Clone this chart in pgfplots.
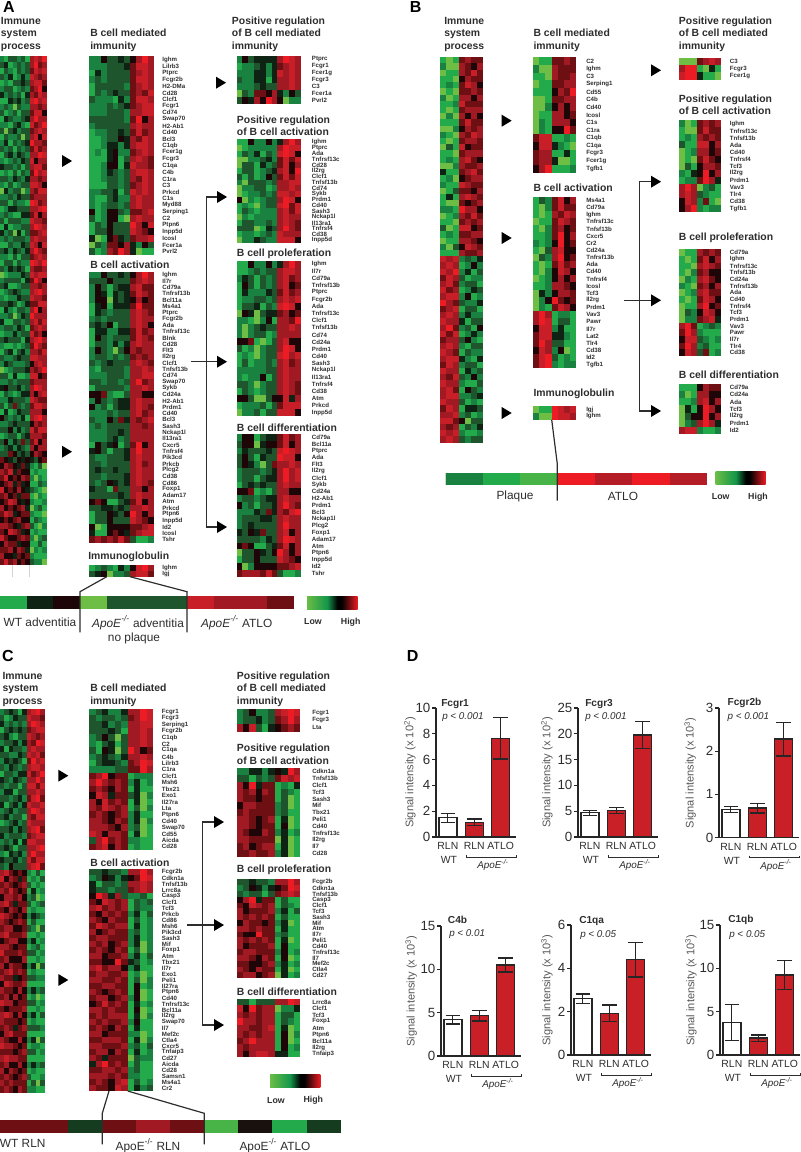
\documentclass[border=0pt]{standalone}
\usepackage{fontspec}
\setmainfont{Liberation Sans}
\usepackage{pgfplots}
\usepackage{pgfplotstable}
\pgfplotsset{compat=1.18}
\definecolor{txt}{RGB}{45,45,45}
\definecolor{hlow}{RGB}{106,189,69}
\definecolor{hgreen}{RGB}{20,150,75}
\definecolor{hhigh}{RGB}{237,28,36}
\definecolor{barred}{RGB}{200,32,38}
\definecolor{sepc}{RGB}{205,215,205}
\pgfdeclarehorizontalshading{heatbar}{100bp}{color(0bp)=(hlow); color(25bp)=(hlow); color(45bp)=(hgreen); color(55bp)=(black); color(59bp)=(black); color(75bp)=(hhigh); color(100bp)=(hhigh)}
\pgfplotsset{colormap={heat}{rgb255(0)=(110,190,70) rgb255(1)=(35,170,75) rgb255(2)=(25,130,65) rgb255(3)=(30,85,45) rgb255(4)=(15,35,20) rgb255(5)=(30,5,8) rgb255(6)=(110,15,20) rgb255(7)=(160,25,35) rgb255(8)=(200,30,40) rgb255(9)=(237,28,36)}}
\pgfdeclareplotmark{cell}{\pgfpathrectangle{\pgfqpoint{-\cellw pt}{-\cellh pt}}{\pgfqpoint{\cellW pt}{\cellH pt}}\pgfusepathqfill}
\def\lx{8}
\newcommand{\hm}[9]{%
 \pgfmathsetmacro\cellw{#3*0.75/(#5+1)/2+0.05}\pgfmathsetmacro\cellh{#4*0.75/(#6+1)/2+0.05}%
 \pgfmathsetmacro\cellW{2*\cellw}\pgfmathsetmacro\cellH{2*\cellh}%
 \begin{axis}[at={(#1*0.75pt,-#2*0.75pt)},anchor=north west,scale only axis,width=#3*0.75pt,height=#4*0.75pt,
  colormap name=heat,point meta min=0,point meta max=9,xmin=-.5,xmax=#5.5,ymin=-.5,ymax=#6.5,y dir=reverse,clip=false,
  axis line style={draw=none},xtick=\empty,ytick={0,...,#6},yticklabels={#8},yticklabel pos=right,major tick length=0pt,
  yticklabel style={anchor=west,inner sep=0pt,text=txt,xshift=\lx*0.75pt,font=\fontsize{4.6}{5}\selectfont\bfseries}]
 \pgfplotsinvokeforeach{0,...,#5}{\addplot[scatter,only marks,mark=cell,point meta=explicit] table[x expr=##1,y expr=\coordindex,meta index=##1]{#9};}
 \pgfplotsinvokeforeach{#7}{\addplot[sepc,line width=0.5pt,no marks] coordinates {(##1,-.5)(##1,#6.5)};}
 \end{axis}}
\newcommand{\bc}[8]{%
 \pgfmathsetmacro\barh{(#3-#2)*0.75}%
 \begin{axis}[at={(#1*0.75pt,-#2*0.75pt)},anchor=north west,scale only axis,width=60pt,height=\barh pt,
  /pgf/number format/assume math mode=true,xmin=-.45,xmax=2.58,ymin=0,ymax=#4,ytick distance=#5,
  axis x line*=bottom,axis y line*=left,axis line style={-,line width=1pt,black!85},
  xtick={0,1,2},xticklabels={RLN,RLN,ATLO},xtick style={draw=none},ytick style={line width=1pt,black!85},
  tick align=outside,major tick length=3pt,tick label style={text=txt},
  yticklabel style={font=\fontsize{10}{11}\selectfont,inner xsep=1pt},
  xticklabel style={font=\fontsize{7.8}{9}\selectfont,inner ysep=1pt},
  ylabel={Signal intensity (x 10\textsuperscript{#6})},
  every axis y label/.style={at={(axis description cs:0,0.5)},xshift=-#7*0.75pt,rotate=90,anchor=center,font=\fontsize{8.3}{9}\selectfont,text=txt!80}]
 \addplot[ybar,bar width=13.5pt,bar shift=0pt,draw=black!85,fill=white,line width=1pt,
  error bars/.cd,y dir=both,y explicit,error bar style={line width=0.9pt,black!85},error mark options={rotate=90,black!85,line width=0.9pt,mark size=5.5pt}]
  table[x=x,y=y,y error=e,skip coords between index={1}{3}]{#8};
 \addplot[ybar,bar width=13.5pt,bar shift=0pt,draw=black!85,fill=barred,line width=1pt,
  error bars/.cd,y dir=both,y explicit,error bar style={line width=0.9pt,black!85},error mark options={rotate=90,black!85,line width=0.9pt,mark size=5.5pt}]
  table[x=x,y=y,y error=e,skip coords between index={0}{1}]{#8};
 \end{axis}
 \node[anchor=center,text=txt,font=\fontsize{7.8}{9}\selectfont] at ({#1+13},{#3+23}) {WT};
 \draw[txt,line width=0.5pt] ({#1+30},{#3+18})--({#1+30},{#3+20})--({#1+80},{#3+20})--({#1+80},{#3+18});
 \node[anchor=center,text=txt,font=\fontsize{7.4}{9}\selectfont\itshape] at ({#1+57},{#3+28}) {ApoE\textsuperscript{-/-}};}
\newcommand{\ttl}[3]{\node[anchor=base west,inner sep=0pt,text=txt,font=\fontsize{7.8}{9}\selectfont\bfseries] at ({#1},{#2+3.7}) {#3};}
\newcommand{\tri}[2]{\fill[black] ({#1},{#2-6})--({#1+10},{#2})--({#1},{#2+6})--cycle;}
\newcommand{\grad}[6]{\shade[shading=heatbar] (#1,#2) rectangle (#3,#4);
 \node[text=txt,font=\fontsize{6.6}{8}\selectfont\bfseries] at (#5,{#4+12.5}) {Low};
 \node[text=txt,font=\fontsize{6.6}{8}\selectfont\bfseries] at (#6,{#4+12.5}) {High};}
\newcommand{\lab}[3]{\node[text=txt,inner sep=0pt,font=\fontsize{8.9}{10}\selectfont] at (#1,#2) {#3};}
\newcommand{\apo}{\textit{ApoE}\textsuperscript{\textit{-/-}}}

\pgfplotstableread{x y e
0 1.5 0.35
1 1.15 0.25
2 7.65 1.6
}\bA
\pgfplotstableread{x y e
0 4.7 0.5
1 5.1 0.6
2 19.8 2.6
}\bB
\pgfplotstableread{x y e
0 0.65 0.07
1 0.68 0.11
2 2.28 0.39
}\bC
\pgfplotstableread{x y e
0 4.2 0.5
1 4.65 0.6
2 10.5 0.8
}\bD
\pgfplotstableread{x y e
0 2.6 0.22
1 1.93 0.38
2 4.4 0.8
}\bE
\pgfplotstableread{x y e
0 3.75 2.1
1 1.95 0.35
2 9.25 1.65
}\bF

\pgfplotstableread[header=false]{
2 2 5 3 3 4 3 5 7 9 7
2 2 2 3 3 3 4 6 8 8 7
1 4 2 3 3 3 3 6 7 8 7
2 3 2 3 3 3 3 6 8 8 7
1 3 3 3 3 3 2 6 7 8 7
1 3 2 3 4 3 3 6 7 6 8
3 2 2 2 1 4 2 6 8 8 7
2 2 2 3 2 3 4 6 7 8 8
2 2 2 3 3 3 2 7 7 8 8
3 3 3 3 3 3 2 6 9 5 7
2 3 3 3 3 3 3 7 8 7 7
1 2 2 3 3 4 3 6 8 6 7
1 1 2 3 3 5 4 7 6 8 7
1 1 2 4 4 2 4 7 8 8 7
1 2 1 4 5 2 2 6 7 8 7
1 1 1 4 5 1 3 7 8 7 6
1 1 2 5 5 1 4 8 7 7 6
1 1 2 4 3 2 3 7 8 8 7
1 1 2 3 3 2 3 7 6 8 7
1 1 1 3 3 2 3 6 7 8 7
2 2 3 3 4 1 3 8 7 8 7
2 1 1 3 4 2 2 7 8 7 7
2 1 2 3 3 2 3 7 8 7 7
5 1 2 5 5 3 2 6 6 7 8
3 1 2 5 5 1 0 7 8 7 7
1 3 2 5 3 3 3 9 7 5 8
1 3 3 5 3 3 3 8 7 6 5
4 0 1 5 6 4 3 6 7 7 8
0 3 2 6 6 5 7 4 2 5 3
3 1 2 7 6 9 7 4 0 1 1
}\tAa
\pgfplotstableread[header=false]{
2 2 5 3 3 4 3 5 7 9 7
3 3 3 5 3 3 3 6 7 8 7
2 5 3 1 3 4 4 7 8 6 6
2 5 4 1 4 3 4 6 8 7 6
2 5 5 0 4 3 4 5 7 5 6
1 4 5 1 4 4 4 6 9 6 6
1 4 3 2 3 3 3 7 8 7 6
2 3 2 3 3 3 3 7 8 7 7
3 4 3 5 1 3 3 7 8 7 5
1 4 4 2 2 4 4 6 8 6 7
1 5 3 2 3 3 3 6 8 7 6
1 3 3 2 4 2 4 7 8 7 7
2 5 3 2 0 3 5 7 6 7 7
2 3 3 2 3 2 3 6 7 6 7
3 2 3 4 3 3 3 7 8 7 6
2 1 3 3 3 3 2 7 7 8 7
2 2 2 3 3 3 2 7 7 8 8
3 3 2 3 3 2 3 7 9 6 7
1 3 3 3 3 3 2 7 7 8 7
5 5 6 2 1 1 3 7 7 5 5
2 5 3 2 3 4 4 7 8 7 7
5 2 3 1 3 4 4 7 8 7 6
2 2 2 3 2 3 3 7 8 6 7
3 2 2 5 3 6 4 7 6 7 8
2 3 2 3 3 3 3 7 7 6 7
2 2 2 3 3 4 3 7 7 7 7
2 2 2 3 4 2 3 7 7 7 7
1 5 3 4 5 1 3 6 9 5 7
4 5 3 1 3 3 4 7 9 7 7
3 2 2 3 3 3 4 7 8 7 7
3 3 2 3 3 3 3 7 8 6 7
3 4 3 3 4 3 3 7 8 7 7
3 3 2 3 3 3 4 7 8 7 7
3 2 3 5 4 3 4 7 8 7 6
4 3 3 1 6 3 3 7 7 5 7
3 3 3 3 3 4 3 7 8 7 7
5 6 5 1 1 3 4 6 8 5 7
3 3 4 4 3 4 3 7 7 8 7
1 3 3 5 4 3 5 9 7 5 7
1 3 3 5 3 3 3 8 7 6 5
5 0 1 5 5 5 5 6 6 7 8
4 1 1 5 6 5 4 6 7 8 8
6 7 6 7 6 8 6 3 1 1 2
}\tAb
\pgfplotstableread[header=false]{
1 2 3 2 1 4 2 5 8 9 7
3 4 5 0 2 2 3 7 8 8 6
}\tAc
\pgfplotstableread[header=false]{
2 5 3 4 4 4 4 7 9 8 7
1 2 2 3 4 2 4 6 7 8 7
2 2 2 4 4 2 4 8 7 8 7
3 2 2 4 4 1 4 7 7 8 7
2 2 2 3 4 3 3 7 7 8 7
0 3 2 6 6 5 7 4 2 5 3
3 5 4 7 5 9 7 5 0 2 2
}\tAd
\pgfplotstableread[header=false]{
1 1 5 2 2 5 2 4 7 9 7
0 1 2 2 2 2 2 7 9 8 8
1 3 2 4 1 3 2 8 9 8 5
0 0 2 2 3 4 2 6 8 6 8
0 3 3 1 4 2 3 6 8 5 7
1 3 3 1 2 3 4 7 8 5 9
3 1 3 1 2 5 3 6 8 6 8
2 0 3 3 3 2 3 7 7 8 8
0 2 2 3 3 1 2 7 7 8 7
0 1 2 2 3 2 3 8 8 7 8
5 0 2 1 2 3 3 7 9 8 5
1 2 1 0 2 3 3 8 9 6 8
1 3 2 1 2 2 2 7 8 6 8
0 2 1 2 2 2 2 7 8 7 7
1 3 3 2 2 3 2 7 8 7 6
3 3 3 0 1 4 3 7 9 7 6
1 2 2 1 2 3 2 8 7 7 7
0 2 2 4 3 2 2 8 8 8 5
}\tAe
\pgfplotstableread[header=false]{
1 1 5 2 2 5 2 4 7 9 7
1 1 2 3 2 3 3 7 8 8 7
2 4 3 1 3 2 3 7 8 6 7
1 5 3 1 3 2 3 7 8 5 6
1 4 2 2 2 4 3 6 8 6 7
1 2 2 3 3 2 3 7 8 7 8
1 3 3 4 1 3 2 8 9 8 5
0 5 4 0 3 4 4 6 7 5 6
2 2 1 0 2 5 1 7 7 6 9
2 0 2 3 4 3 3 7 7 8 7
2 0 2 3 3 1 2 7 7 7 7
5 5 6 1 0 1 3 7 8 5 5
3 1 2 0 2 3 3 7 9 8 5
1 2 1 0 2 3 3 8 9 7 8
1 3 1 2 2 3 2 7 8 6 7
2 2 2 2 2 3 3 7 8 7 7
2 1 2 2 5 1 3 7 8 7 7
3 3 2 0 2 3 3 7 8 7 6
1 3 2 1 2 3 3 7 8 7 6
5 5 3 0 0 3 5 5 8 4 7
1 2 2 2 3 1 3 6 8 8 8
0 2 2 3 1 3 3 8 8 8 5
}\tAf
\pgfplotstableread[header=false]{
2 5 5 1 3 4 4 6 8 6 7
3 5 5 0 4 5 5 6 8 5 7
2 4 3 3 3 4 3 8 9 8 7
3 5 3 1 4 3 3 9 8 8 5
3 5 4 2 0 3 6 7 7 8 7
2 3 3 3 2 3 4 7 9 7 8
2 3 3 1 3 4 4 7 9 7 8
1 3 4 3 4 3 3 7 8 7 7
5 5 6 1 2 1 3 7 7 5 5
2 3 3 2 3 4 4 7 8 7 7
5 2 3 1 3 3 4 7 9 7 6
2 2 2 4 3 6 4 7 6 8 9
2 3 3 3 4 4 3 7 8 7 7
2 3 4 3 3 3 3 7 9 7 7
4 3 5 4 6 3 3 7 8 5 7
3 3 3 3 2 4 3 7 9 8 7
5 6 5 1 1 3 4 6 8 5 7
0 3 3 5 4 3 5 9 7 5 7
1 3 3 5 3 3 3 8 7 6 5
5 0 2 5 5 5 5 6 6 7 8
6 7 7 7 6 8 6 3 1 1 2
}\tAg
\pgfplotstableread[header=false]{
2 1 3 3 2 3 1 7 8 7 9
3 4 1 2 3 2 3 7 9 6 7
1 3 2 1 3 2 3 6 8 7 8
3 2 4 1 2 4 2 8 7 6 7
1 2 1 3 3 4 3 7 8 8 6
2 3 3 1 2 3 2 6 7 9 5
4 2 3 2 3 1 4 7 6 8 7
1 1 4 3 4 2 3 8 9 7 8
2 3 2 0 3 2 2 7 7 6 7
3 1 2 3 1 3 3 6 8 8 5
1 4 3 2 2 3 4 7 9 7 7
2 2 1 3 4 2 1 8 6 7 9
3 0 3 4 2 3 3 6 7 8 7
1 3 2 2 3 0 3 7 8 5 8
2 4 1 3 2 3 4 9 7 7 6
3 2 3 1 3 2 3 6 8 6 7
1 3 4 2 4 3 2 7 7 9 8
2 1 2 3 2 4 3 8 5 7 7
4 3 3 2 3 1 3 7 8 8 6
1 2 1 3 1 3 2 6 9 7 8
3 3 2 4 3 2 4 7 7 6 7
2 1 3 1 2 3 3 8 8 7 5
0 4 2 3 3 0 2 7 6 8 8
2 2 3 2 4 3 3 6 7 7 7
3 3 1 3 2 2 1 9 8 6 7
1 2 4 4 3 3 3 7 7 8 9
2 3 2 1 1 4 4 6 8 5 7
3 1 3 3 3 2 2 8 7 7 6
1 4 1 2 2 3 3 7 9 8 7
4 2 3 0 4 1 3 6 6 7 8
2 3 2 3 3 3 2 7 8 7 7
1 1 3 2 2 4 3 8 7 5 8
3 4 2 4 3 2 4 7 9 7 6
2 2 1 3 1 3 3 6 7 8 7
1 3 3 1 3 2 2 9 8 7 9
3 2 4 3 4 3 1 7 6 6 7
0 1 2 2 2 4 3 8 7 8 8
2 3 3 3 3 1 4 6 9 7 5
3 4 1 1 2 3 3 7 7 6 7
1 2 3 4 3 2 2 7 8 9 7
2 1 2 2 4 3 3 8 7 7 6
3 3 4 3 1 2 4 6 6 8 8
1 4 2 1 3 3 2 7 9 5 7
2 2 3 0 2 4 3 9 7 7 7
4 1 1 3 3 2 3 7 8 6 8
2 3 3 2 4 3 1 6 7 8 7
1 2 2 4 2 3 3 8 6 7 5
3 4 3 3 3 1 4 7 8 9 7
2 1 1 2 1 2 3 6 9 7 6
1 3 4 1 3 4 2 7 7 6 8
3 2 2 3 4 3 3 8 8 7 7
2 4 3 2 2 2 3 5 7 8 7
0 1 2 3 3 3 4 7 6 7 9
3 3 1 4 1 1 2 8 8 5 6
2 2 3 2 3 3 3 6 7 7 7
4 5 3 3 4 2 3 7 9 8 7
1 3 2 1 2 4 4 7 5 7 8
2 2 4 3 3 3 2 8 7 6 6
3 1 3 6 3 2 3 6 8 8 7
1 4 1 2 4 3 3 7 7 7 5
5 3 2 3 2 4 1 7 8 9 7
2 2 3 4 3 3 3 5 7 6 7
3 3 5 2 4 2 3 8 6 8 8
1 2 3 3 1 3 4 7 7 7 6
3 5 2 4 3 6 3 6 8 5 7
2 3 4 2 4 3 2 7 5 7 7
3 3 6 5 3 4 3 5 7 6 5
6 5 4 3 5 4 5 4 3 5 6
5 7 6 5 4 6 4 2 1 3 0
7 6 8 4 6 5 5 1 2 1 1
6 8 5 6 5 7 6 2 0 2 1
5 6 7 4 6 4 5 1 1 3 2
8 5 6 5 7 5 4 3 2 1 0
6 7 5 6 4 6 6 1 0 2 1
5 6 8 7 5 4 5 2 1 1 2
7 5 6 5 6 7 4 0 2 3 1
6 8 7 4 5 6 6 2 1 1 0
5 6 5 6 7 5 5 1 3 2 1
7 7 6 5 4 6 7 3 1 0 2
6 5 8 7 6 4 5 1 2 1 1
8 6 5 5 6 7 6 2 0 2 3
5 7 6 6 4 5 5 1 1 3 1
6 6 7 5 7 6 4 0 2 1 2
7 5 5 4 6 5 6 2 1 1 1
6 8 6 7 5 6 5 3 2 2 0
}\tAm
\pgfplotstableread[header=false]{
1 4 5 0 3 3 3 8 7 7 6
}\tAl

\pgfplotstableread[header=false]{
1 0 1 6 7 6 6
2 0 0 7 6 5 7
0 1 1 7 6 8 6
1 1 0 5 7 6 6
1 2 1 6 8 7 5
0 1 0 6 6 7 6
2 0 1 7 7 5 7
1 1 2 8 6 6 6
1 0 1 6 7 7 7
0 2 0 7 5 7 5
1 1 1 6 8 6 6
0 0 2 5 7 6 7
2 1 0 7 6 8 7
1 0 1 6 7 7 6
0 3 1 8 5 6 6
1 1 0 6 7 7 7
1 2 1 7 8 6 5
0 0 2 7 6 6 7
4 1 1 6 7 8 6
1 2 0 5 6 7 7
2 1 1 8 7 6 6
0 1 3 6 6 5 7
1 4 1 7 8 7 6
1 0 0 6 5 6 7
2 2 1 9 7 7 5
0 1 2 7 6 8 6
1 1 0 6 7 6 7
3 0 1 8 8 5 6
1 2 1 6 6 7 7
0 1 1 7 7 6 5
2 0 3 5 8 7 6
1 1 1 7 6 6 7
8 7 8 2 3 2 4
7 8 7 1 2 5 2
8 7 9 2 4 1 3
6 8 7 3 1 2 2
7 8 6 2 3 3 1
8 6 7 1 2 4 3
7 8 8 2 5 1 2
9 7 6 3 2 2 4
6 7 8 1 3 3 1
7 8 7 2 4 2 2
8 7 7 4 1 3 3
7 9 6 2 3 1 5
8 6 8 1 2 4 2
6 7 7 3 5 2 1
7 8 7 2 1 3 3
8 7 6 1 3 2 2
7 8 8 4 2 1 4
6 8 7 2 3 3 1
8 7 7 1 4 2 3
7 6 8 3 2 5 2
8 7 7 2 1 1 3
7 8 6 1 5 3 2
7 8 8 2 2 3 4
8 7 7 3 1 2 1
6 8 7 1 4 4 3
7 7 8 2 3 1 2
8 8 6 5 0 3 3
7 6 7 1 3 2 4
8 7 8 2 1 1 2
7 8 7 3 2 3 3
}\tBm
\pgfplotstableread[header=false]{
0 1 1 6 6 7 6
2 0 0 7 6 6 6
1 1 0 7 6 6 7
0 1 1 6 6 7 7
1 1 1 5 7 6 9
0 0 1 6 6 7 7
0 0 2 5 7 5 7
0 1 1 7 7 5 6
0 2 1 7 7 7 5
0 2 1 5 5 9 6
6 8 8 1 1 2 1
5 8 8 4 2 1 0
6 7 7 1 1 4 1
6 7 7 4 0 0 1
5 7 9 1 1 1 2
}\tBa
\pgfplotstableread[header=false]{
1 3 2 6 8 5 7
1 0 2 6 8 6 6
1 0 1 7 6 8 7
0 1 1 6 8 7 6
1 0 2 6 7 5 6
1 1 2 6 9 5 7
2 1 2 5 9 5 6
1 0 3 7 8 5 5
0 3 2 7 9 5 6
1 0 1 6 8 6 7
1 0 2 5 8 7 5
0 1 2 5 7 5 7
1 1 2 7 7 6 5
0 4 2 5 7 7 6
0 2 5 9 6 5 6
0 2 1 6 8 7 5
7 9 7 1 2 2 1
7 9 8 1 3 3 1
5 8 8 2 4 1 1
6 8 8 4 4 2 1
6 9 7 3 3 1 1
5 8 7 2 5 0 1
6 8 9 3 1 2 1
6 8 9 2 1 2 2
}\tBb
\pgfplotstableread[header=false]{
0 1 1 9 8 7 8
2 0 0 9 8 8 7
}\tBc
\pgfplotstableread[header=false]{
0 0 0 6 7 8 7
7 9 9 1 0 4 1
8 9 9 4 1 1 0
}\tBd
\pgfplotstableread[header=false]{
2 0 1 6 7 6 7
1 0 0 6 8 6 6
1 2 1 7 6 7 6
3 1 1 8 8 5 7
0 1 2 7 7 5 6
0 1 0 6 8 6 5
0 3 1 5 7 7 6
2 1 4 5 9 5 7
1 2 2 6 9 7 4
7 9 7 0 2 3 1
7 8 7 3 2 1 1
5 8 7 2 6 1 0
5 7 9 2 1 2 2
}\tBe
\pgfplotstableread[header=false]{
0 1 1 7 6 7 6
1 0 1 6 8 5 7
1 1 0 7 8 7 6
1 0 2 6 7 5 5
0 2 1 7 8 6 5
2 1 0 6 7 5 7
0 1 2 7 8 6 6
1 0 1 6 8 7 5
0 1 1 7 9 5 6
0 3 2 5 8 7 5
0 2 2 6 7 8 4
7 9 6 1 2 3 2
6 9 7 2 1 1 1
5 8 8 3 2 1 2
6 9 7 2 3 1 1
5 8 7 3 6 1 2
}\tBf
\pgfplotstableread[header=false]{
1 1 1 5 7 6 6
2 0 1 7 7 5 5
1 1 2 7 8 5 7
0 4 1 5 9 7 5
0 3 5 5 9 5 7
0 2 3 7 9 7 4
7 8 8 2 1 1 2
}\tBg
\pgfplotstableread[header=false]{
2 1 0.5 9 7.5 9 7.5
}\tBl
\pgfplotstableread[header=false]{
6 6 3.5 6 7 6 0.5 4.6 1 3.5
}\tCk
\pgfplotstableread[header=false]{
2 3 4 2 2 4 7 7 9 8
3 2 3 3 2 3 6 7 9 8
3 3 4 2 3 2 7 7 8 8
3 3 3 4 3 1 7 7 8 7
2 3 5 3 0 3 7 7 8 7
2 1 3 4 1 3 7 7 8 7
3 1 5 4 0 3 9 7 5 6
2 3 4 3 2 4 7 7 8 7
1 3 4 4 3 2 6 7 9 8
2 2 2 2 3 3 6 6 9 7
6 7 9 5 6 6 1 2 2 2
7 9 7 6 7 6 2 4 1 2
6 7 6 5 7 6 1 4 1 1
5 8 7 4 6 6 3 4 0 2
7 5 8 6 7 6 1 4 0 1
7 6 8 7 6 7 1 3 0 2
6 7 6 5 6 7 2 4 1 1
7 7 6 5 7 6 2 4 0 2
7 7 7 6 5 7 2 3 0 1
8 7 5 7 7 6 1 4 0 1
3 7 9 6 7 6 2 2 1 1
6 7 8 5 7 6 1 2 1 1
}\tCa
\pgfplotstableread[header=false]{
3 3 4 3 3 2 7 7 9 7
2 3 5 4 2 4 5 6 9 8
4 1 3 3 2 3 7 7 8 7
4 3 3 2 3 3 6 7 8 7
5 9 7 4 7 3 2 2 3 1
6 5 8 7 6 7 1 3 2 3
7 8 6 7 6 7 1 3 2 2
6 5 7 6 7 6 2 4 1 3
7 6 5 7 6 6 1 3 1 2
6 8 7 6 7 7 1 4 1 2
7 5 6 7 6 6 2 3 1 2
6 7 7 6 6 6 2 4 1 2
7 6 7 5 6 7 2 4 0 2
6 7 6 5 7 6 1 3 0 2
7 7 5 6 6 7 2 4 1 3
6 6 5 5 9 6 4 3 1 2
7 8 6 7 7 5 2 4 1 1
6 7 7 6 6 7 1 2 0 1
7 7 6 6 7 6 1 3 0 2
6 6 7 7 6 6 1 5 1 2
7 6 5 6 7 6 1 5 0 1
6 7 7 5 6 7 2 5 0 1
5 6 8 6 7 6 1 4 1 2
7 7 6 7 6 6 1 5 0 1
6 7 6 7 7 7 1 4 0 2
7 6 7 6 6 7 2 5 1 1
6 7 6 5 7 6 1 4 1 1
7 7 5 6 6 6 2 2 0 1
6 6 7 7 7 6 1 4 0 2
7 7 6 6 6 7 2 3 1 3
6 7 7 5 7 6 1 4 1 2
7 6 4 6 6 6 0 3 2 2
4 7 9 6 7 6 1 3 1 1
6 6 7 7 6 7 2 3 1 1
7 7 7 6 7 6 2 2 1 1
6 7 6 5 7 8 1 3 1 2
7 6 6 5 8 7 1 4 2 3
}\tCb
\pgfplotstableread[header=false]{
2 3 5 2 2 3 7 8 9 8
2 3 3 4 2 3 6 7 9 7
7 5 8 3 1 4 5 6 7 6
}\tCc
\pgfplotstableread[header=false]{
2 2 4 4 2 4 5 4 9 7
3 3 1 3 2 3 6 8 7 8
7 5 9 4 6 6 1 2 1 4
7 6 7 5 7 6 1 3 2 1
7 6 6 5 6 6 1 3 0 1
5 7 7 6 6 6 2 3 0 1
6 7 6 6 6 6 2 3 1 1
7 7 6 5 6 7 1 4 0 1
7 7 6 5 6 6 1 5 0 1
7 6 5 5 7 6 2 4 1 2
7 7 6 6 6 6 0 4 0 1
6 7 5 6 7 7 1 4 0 1
6 6 7 6 6 7 2 4 0 1
}\tCe
\pgfplotstableread[header=false]{
3 3 4 3 3 2 7 7 9 7
2 3 5 4 2 4 5 6 9 8
3 2 3 3 1 3 6 7 8 7
5 7 9 4 6 6 1 3 1 1
6 5 8 7 6 7 1 3 2 1
7 5 6 6 6 7 2 4 1 3
7 6 7 6 7 6 1 3 1 1
5 7 6 6 5 6 2 4 0 1
7 7 6 7 6 6 1 4 1 1
6 5 5 9 6 6 2 3 1 1
7 6 7 6 7 6 1 4 0 1
7 5 6 6 6 7 1 5 1 1
6 7 7 6 6 6 2 5 1 2
7 7 6 5 7 6 1 5 0 1
6 6 5 5 6 7 2 4 1 2
7 6 5 7 6 6 1 4 0 1
6 7 7 5 6 7 0 4 1 2
}\tCf
\pgfplotstableread[header=false]{
3 3 1 3 3 3 7 7 9 8
8 5 9 6 7 7 0 2 2 4
7 6 7 6 7 7 1 3 3 1
9 7 7 6 7 7 1 3 2 1
7 7 6 6 7 8 1 4 0 1
7 6 7 6 7 7 1 5 0 2
6 7 9 7 7 7 1 5 0 1
7 6 7 7 7 7 1 5 1 2
7 5 7 8 8 7 4 4 1 1
}\tCg
\pgfplotstableread[header=false]{
2 3 4 3 1 4 7 8 9 7
3 1 2 4 3 3 8 7 7 6
4 2 3 2 3 2 7 9 8 7
1 3 4 3 4 3 6 7 8 8
3 4 2 1 3 3 8 7 6 7
2 3 3 4 2 4 7 6 9 8
4 1 4 3 3 2 7 8 7 7
3 3 2 2 4 3 8 7 8 6
2 4 3 4 3 1 6 9 7 8
3 2 4 3 2 3 7 8 8 7
1 3 3 2 4 4 8 6 7 9
4 3 2 4 3 2 7 7 9 7
3 2 3 3 1 3 8 8 6 8
2 4 4 1 3 3 7 7 8 7
3 3 2 3 4 2 6 8 9 6
4 1 3 4 2 4 8 7 7 8
2 3 4 2 3 3 7 9 8 7
3 4 2 3 3 1 7 6 8 8
1 2 3 4 2 3 8 7 7 7
3 3 4 2 4 3 7 8 9 6
4 2 3 3 3 2 6 7 8 8
2 3 2 4 1 4 8 8 7 7
3 4 3 1 3 3 7 7 8 9
2 1 4 3 4 2 7 9 7 7
4 3 3 4 2 3 8 6 8 8
3 2 5 3 3 3 7 8 9 6
7 8 6 5 6 5 2 1 3 1
8 5 7 6 4 6 1 2 1 3
6 7 6 5 6 7 3 1 2 1
7 6 8 6 5 6 1 4 1 2
5 7 7 6 7 5 2 3 0 1
7 8 6 4 6 6 3 1 2 3
6 5 7 6 5 7 1 2 1 1
8 7 6 5 6 5 2 4 3 2
7 6 5 6 7 6 1 3 1 1
6 7 7 5 5 6 3 2 0 3
7 8 6 6 6 7 1 1 2 1
5 6 7 7 5 5 2 4 1 2
7 7 6 5 6 6 1 2 3 1
8 6 6 6 7 6 3 3 1 2
6 7 5 5 5 7 1 1 2 1
7 5 7 6 6 5 2 4 0 3
6 7 8 6 7 6 1 2 1 1
7 6 6 4 5 6 3 3 2 2
5 8 7 6 6 7 1 1 1 1
7 6 6 5 7 5 2 4 2 3
6 7 5 7 5 6 1 2 0 1
8 7 7 5 6 6 3 3 1 2
6 5 6 6 6 7 1 1 2 1
7 8 7 5 7 5 2 4 1 3
7 6 6 6 5 6 1 2 1 1
6 7 6 4 6 7 3 3 3 2
5 7 8 6 6 6 1 1 1 1
7 6 5 5 7 5 2 4 0 3
8 7 7 6 5 6 1 2 2 1
6 6 6 5 6 7 3 3 1 2
7 8 7 7 6 6 1 1 1 1
6 7 5 5 7 5 2 4 2 3
7 5 7 6 5 6 1 2 1 1
6 7 6 5 6 7 3 1 1 2
7 6 7 6 6 6 1 3 0 3
6 7 6 5 7 6 2 2 1 1
}\tCm
\begin{document}
\begin{tikzpicture}[x=0.75pt,y=-0.75pt]
\path[use as bounding box] (0,0) rectangle (800,1152);
%% ---------- Panel A
\node[anchor=center,font=\fontsize{12}{14}\selectfont\bfseries] at (9,7) {A};
\ttl{0.7}{20.7}{Immune}\ttl{0.7}{33.3}{system}\ttl{0.7}{46}{process}
\hm{0}{56}{46.5}{521}{10}{86}{2.5,6.5}{}{\tAm}
\ttl{90}{33}{B cell mediated}\ttl{90}{46}{immunity}
\def\lx{8.5}
\hm{89.3}{56.5}{64.3}{198.5}{10}{29}{2.5,6.5}{Ighm,Lilrb3,Ptprc,Fcgr2b,H2-DMa,Cd28,Clcf1,Fcgr1,Cd74,Swap70,H2-Ab1,Cd40,Bcl3,C1qb,Fcer1g,Fcgr3,C1qa,C4b,C1ra,C3,Prkcd,C1s,Myd88,Serping1,C2,Ptpn6,Inpp5d,Icosl,Fcer1a,Pvrl2}{\tAa}
\ttl{90}{264.7}{B cell activation}
\hm{89.3}{271.7}{64.3}{271}{10}{42}{2.5,6.5}{Ighm,Il7r,Cd79a,Tnfrsf13b,Bcl11a,Ms4a1,Ptprc,Fcgr2b,Ada,Tnfrsf13c,Blnk,Cd28,Flt3,Il2rg,Clcf1,Tnfsf13b,Cd74,Swap70,Sykb,Cd24a,H2-Ab1,Prdm1,Cd40,Bcl3,Sash3,Nckap1l,Il13ra1,Cxcr5,Tnfrsf4,Pik3cd,Prkcb,Plcg2,Cd38,Cd86,Foxp1,Adam17,Atm,Prkcd,Ptpn6,Inpp5d,Id2,Icosl,Tshr}{\tAb}
\ttl{88}{556}{Immunoglobulin}
\hm{89.3}{565}{64.3}{12}{10}{1}{2.5,6.5}{Ighm,Igj}{\tAc}
\ttl{231.7}{20.7}{Positive regulation}\ttl{231.7}{33.3}{of B cell mediated}\ttl{231.7}{46}{immunity}
\def\lx{11}
\hm{236.7}{56}{64}{48}{10}{6}{2.5,6.5}{Ptprc,Fcgr1,Fcer1g,Fcgr3,C3,Fcer1a,Pvrl2}{\tAd}
\ttl{236.7}{119.5}{Positive regulation}\ttl{236.7}{132}{of B cell activation}
\hm{236.7}{139.3}{64}{103.7}{10}{17}{2.5,6.5}{Ighm,Ptprc,Ada,Tnfrsf13c,Cd28,Il2rg,Clcf1,Tnfsf13b,Cd74,Sykb,Prdm1,Cd40,Sash3,Nckap1l,Il13ra1,Tnfrsf4,Cd38,Inpp5d}{\tAe}
\ttl{236.7}{252.7}{B cell proleferation}
\hm{236.7}{260.7}{64}{155.3}{10}{21}{2.5,6.5}{Ighm,Il7r,Cd79a,Tnfrsf13b,Ptprc,Fcgr2b,Ada,Tnfrsf13c,Clcf1,Tnfsf13b,Cd74,Cd24a,Prdm1,Cd40,Sash3,Nckap1l,Il13ra1,Tnfrsf4,Cd38,Atm,Prkcd,Inpp5d}{\tAf}
\ttl{236.7}{428}{B cell differentiation}
\hm{236.7}{434}{64}{142.7}{10}{20}{2.5,6.5}{Cd79a,Bcl11a,Ptprc,Ada,Flt3,Il2rg,Clcf1,Sykb,Cd24a,H2-Ab1,Prdm1,Bcl3,Nckap1l,Plcg2,Foxp1,Adam17,Atm,Ptpn6,Inpp5d,Id2,Tshr}{\tAg}
\hm{0}{596}{293.7}{13.3}{10}{0}{-0.5}{}{\tAl}
\grad{307}{596}{357.7}{609.3}{313}{350.7}
\lab{40}{622.7}{WT adventitia}
\lab{138}{622.7}{\apo{} adventitia}
\lab{134}{638.7}{no plaque}
\lab{236.7}{622.7}{\apo{} ATLO}
\draw[txt,line width=0.9pt] (106.7,576.7)--(80,591.7)--(80,632.3);
\draw[txt,line width=0.9pt] (130,576.7)--(187,591.7)--(187,632.3);
\tri{62}{161}\tri{62}{451.7}\tri{216}{82.7}\tri{217}{197}\tri{217}{361.7}\tri{217}{527}
\draw[txt,line width=0.9pt] (217,197)--(206.3,197)--(206.3,527)--(217,527);
\draw[txt,line width=0.9pt] (190.7,361.7)--(217,361.7);
%% ---------- Panel B
\node[anchor=center,font=\fontsize{12}{14}\selectfont\bfseries] at (415.7,7) {B};
\ttl{444}{20.7}{Immune}\ttl{444}{33.3}{system}\ttl{444}{46}{process}
\hm{440.3}{57.3}{43}{385.4}{6}{61}{2.5}{}{\tBm}
\ttl{533.3}{33}{B cell mediated}\ttl{533.3}{46}{immunity}
\def\lx{10}
\hm{533.3}{57.3}{42.7}{115.4}{6}{14}{2.5}{C2,Ighm,C3,Serping1,Cd55,C4b,Cd40,Icosl,C1s,C1ra,C1qb,C1qa,Fcgr3,Fcer1g,Tgfb1}{\tBa}
\ttl{533.3}{187.7}{B cell activation}
\hm{533.3}{196.7}{42.7}{171.6}{6}{23}{2.5}{Ms4a1,Cd79a,Ighm,Tnfrsf13c,Tnfsf13b,Cxcr5,Cr2,Cd24a,Tnfrsf13b,Ada,Cd40,Tnfrsf4,Icosl,Tcf3,Il2rg,Prdm1,Vav3,Pawr,Il7r,Lat2,Tlr4,Cd38,Id2,Tgfb1}{\tBb}
\ttl{533.3}{393}{Immunoglobulin}
\hm{533.3}{406}{42.7}{13.7}{6}{1}{2.5}{Igj,Ighm}{\tBc}
\def\lx{8.4}
\ttl{678.7}{20.7}{Positive regulation}\ttl{678.7}{33.3}{of B cell mediated}\ttl{678.7}{46}{immunity}
\hm{678.7}{57.7}{42.6}{22}{6}{2}{2.5}{C3,Fcgr3,Fcer1g}{\tBd}
\ttl{678.7}{98.7}{Positive regulation}\ttl{678.7}{111.3}{of B cell activation}
\hm{678.7}{120.3}{42.6}{91.7}{6}{12}{2.5}{Ighm,Tnfrsf13c,Tnfsf13b,Ada,Cd40,Tnfrsf4,Tcf3,Il2rg,Prdm1,Vav3,Tlr4,Cd38,Tgfb1}{\tBe}
\ttl{678.7}{236.3}{B cell proleferation}
\hm{678.7}{249.3}{42.6}{106.7}{6}{15}{2.5}{Cd79a,Ighm,Tnfrsf13c,Tnfsf13b,Cd24a,Tnfrsf13b,Ada,Cd40,Tnfrsf4,Tcf3,Prdm1,Vav3,Pawr,Il7r,Tlr4,Cd38}{\tBf}
\ttl{678.7}{375}{B cell differentiation}
\hm{678.7}{384}{42.6}{50.3}{6}{6}{2.5}{Cd79a,Cd24a,Ada,Tcf3,Il2rg,Prdm1,Id2}{\tBg}
\hm{445.7}{472.7}{261.3}{12.6}{6}{0}{-0.5}{}{\tBl}
\grad{715.7}{471}{765.7}{484.3}{720.7}{758}
\lab{515}{496}{Plaque}\lab{623}{496}{ATLO}
\draw[txt,line width=0.9pt] (551.7,419.7)--(557.3,464)--(557.3,500.7);
\tri{501.7}{120.7}\tri{501.7}{238}\tri{501.7}{413}
\tri{651}{70.3}\tri{651}{181.7}\tri{651}{300.3}\tri{651}{411}
\draw[txt,line width=0.9pt] (651,181.7)--(639.7,181.7)--(639.7,411)--(651,411);
\draw[txt,line width=0.9pt] (624.3,300.3)--(651,300.3);
%% ---------- Panel C
\node[anchor=center,font=\fontsize{12}{14}\selectfont\bfseries] at (8,656) {C};
\ttl{2.3}{675.5}{Immune}\ttl{2.3}{688}{system}\ttl{2.3}{701}{process}
\hm{0}{708.7}{45}{384}{9}{61}{2.5,5.5}{}{\tCm}
\ttl{90}{688}{B cell mediated}\ttl{90}{701}{immunity}
\def\lx{8.4}
\hm{89.3}{708.7}{64}{141.3}{9}{21}{2.5,5.5}{Fcgr1,Fcgr3,Serping1,Fcgr2b,C1qb,C2,C1qa,C4b,Lilrb3,C1ra,Clcf1,Msh6,Tbx21,Exo1,Il27ra,Lta,Ptpn6,Cd40,Swap70,Cd55,Aicda,Cd28}{\tCa}
\ttl{90}{862.3}{B cell activation}
\hm{89.3}{869}{64}{222}{9}{36}{2.5,5.5}{Fcgr2b,Cdkn1a,Tnfsf13b,Lrrc8a,Casp3,Clcf1,Tcf3,Prkcb,Cd86,Msh6,Pik3cd,Sash3,Mif,Foxp1,Atm,Tbx21,Il7r,Exo1,Peli1,Il27ra,Ptpn6,Cd40,Tnfrsf13c,Bcl11a,Il2rg,Swap70,Il7,Mef2c,Ctla4,Cxcr5,Tnfaip3,Cd27,Aicda,Cd28,Samsn1,Ms4a1,Cr2}{\tCb}
\def\lx{11.7}
\ttl{236.7}{675.5}{Positive regulation}\ttl{236.7}{688}{of B cell mediated}\ttl{236.7}{701}{immunity}
\hm{236.7}{708.7}{63.6}{23}{9}{2}{2.5,5.5}{Fcgr1,Fcgr3,Lta}{\tCc}
\ttl{236.7}{747.7}{Positive regulation}\ttl{236.7}{760.3}{of B cell activation}
\hm{236.7}{768.3}{63.6}{88.4}{9}{12}{2.5,5.5}{Cdkn1a,Tnfsf13b,Clcf1,Tcf3,Sash3,Mif,Tbx21,Peli1,Cd40,Tnfrsf13c,Il2rg,Il7,Cd28}{\tCe}
\ttl{236.7}{868.7}{B cell proleferation}
\hm{236.7}{879.3}{63.6}{99}{9}{16}{2.5,5.5}{Fcgr2b,Cdkn1a,Tnfsf13b,Casp3,Clcf1,Tcf3,Sash3,Mif,Atm,Il7r,Peli1,Cd40,Tnfrsf13c,Il7,Mef2c,Ctla4,Cd27}{\tCf}
\ttl{236.7}{992}{B cell differentiation}
\hm{236.7}{998.7}{63.6}{58.6}{9}{8}{2.5,5.5}{Lrrc8a,Clcf1,Tcf3,Foxp1,Atm,Ptpn6,Bcl11a,Il2rg,Tnfaip3}{\tCg}
\grad{270}{1074}{320.3}{1087.7}{276}{313.3}
\hm{0}{1120}{340.7}{13.3}{9}{0}{-0.5}{}{\tCk}
\lab{22.7}{1143.3}{WT RLN}
\lab{148}{1145.7}{ApoE\textsuperscript{-/-} RLN}
\lab{275}{1145.7}{ApoE\textsuperscript{-/-} ATLO}
\draw[txt,line width=0.9pt] (109,1091)--(102.3,1113.3)--(102.3,1144.3);
\draw[txt,line width=0.9pt] (127.7,1091)--(204.3,1113.3)--(204.3,1144.3);
\tri{58.3}{775.7}\tri{58.3}{980}\tri{214}{822}\tri{214}{925}\tri{214}{1025}
\draw[txt,line width=0.9pt] (214,822)--(202.3,822)--(202.3,1025)--(214,1025);
\draw[txt,line width=0.9pt] (187,925)--(214,925);
%% ---------- Panel D
\node[anchor=center,font=\fontsize{12}{14}\selectfont\bfseries] at (412.7,656) {D};
\bc{436}{708}{837}{10}{2}{2}{26}{\bA}
\bc{578}{708}{837}{25}{5}{2}{31}{\bB}
\bc{719}{708}{837.5}{3}{1}{3}{28.7}{\bC}
\bc{441}{926}{1056}{15}{5}{3}{29.7}{\bD}
\bc{571}{925}{1055}{6}{2}{3}{24}{\bE}
\bc{720}{925}{1055}{15}{5}{3}{29}{\bF}
\newcommand{\gn}[3]{\node[anchor=base west,inner sep=0pt,text=txt,font=\fontsize{7.6}{9}\selectfont\bfseries] at ({#1},{#2+3.5}) {#3};}
\newcommand{\pv}[3]{\node[anchor=base west,inner sep=0pt,text=txt,font=\fontsize{7.4}{9}\selectfont\itshape] at ({#1},{#2+3.5}) {#3};}
\gn{441}{703}{Fcgr1}\pv{442}{716}{p < 0.001}
\gn{585}{703}{Fcgr3}\pv{585}{716}{p < 0.001}
\gn{727.3}{702}{Fcgr2b}\pv{727.3}{716}{p < 0.001}
\gn{447.7}{920}{C4b}\pv{449}{933.3}{p < 0.01}
\gn{579}{919.5}{C1qa}\pv{580}{933.5}{p < 0.05}
\gn{728}{919}{C1qb}\pv{729}{934}{p < 0.05}
\end{tikzpicture}
\end{document}
